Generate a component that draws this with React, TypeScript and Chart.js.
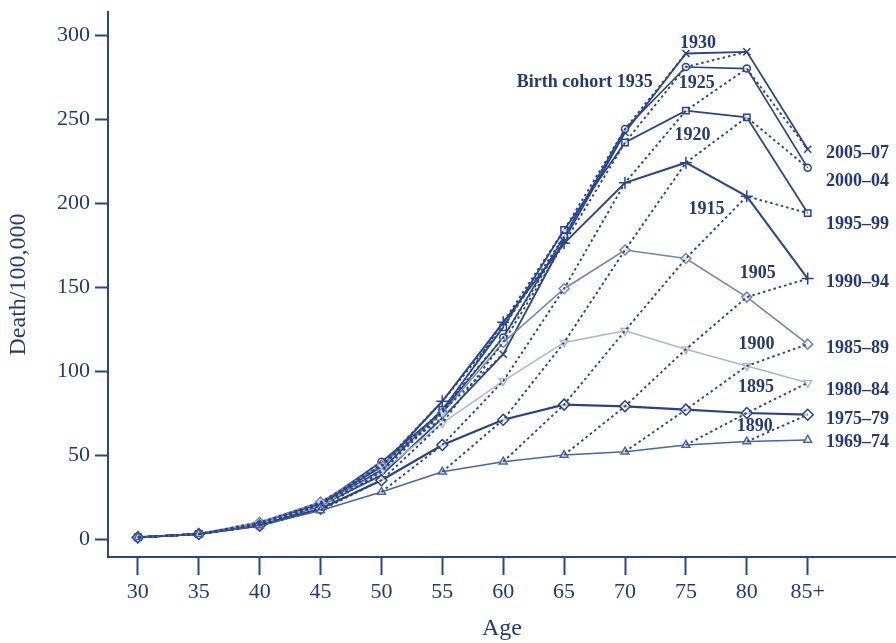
import React, { useEffect, useRef } from "react";
import { Chart, registerables } from "chart.js";

Chart.register(...registerables);

// ---- data ----
const AGES = ["30", "35", "40", "45", "50", "55", "60", "65", "70", "75", "80", "85+"];
const PERIODS = ["1969–74", "1975–79", "1980–84", "1985–89", "1990–94", "1995–99", "2000–04", "2005–07"];
const P1969_74 = [1, 3, 8, 17, 28, 40, 46, 50, 52, 56, 58, 59];
const P1975_79 = [1, 3, 8, 18, 35, 56, 71, 80, 79, 77, 75, 74];
const P1980_84 = [1, 3, 9, 20, 40, 69, 94, 117, 124, 113, 103, 93];
const P1985_89 = [1, 3, 10, 22, 44, 75, 117, 149, 172, 167, 144, 116];
const P1990_94 = [1, 3, 9, 21, 43, 82, 129, 176, 212, 224, 204, 155];
const P1995_99 = [1, 3, 9, 20, 41, 77, 126, 184, 236, 255, 251, 194];
const P2000_04 = [1, 3, 9, 21, 46, 76, 120, 180, 244, 281, 280, 221];
const P2005_07 = [1, 3, 8, 20, 38, 72, 110, 178, 242, 289, 290, 232];
const PERIOD_VALUES = [P1969_74, P1975_79, P1980_84, P1985_89, P1990_94, P1995_99, P2000_04, P2005_07];
const Y_TICKS = [0, 50, 100, 150, 200, 250, 300];

// cohort labels (text, x in age-index units, y in value units)
const COHORT_LABELS = [
  { text: "Birth cohort 1935", x: 7.34, y: 272 },
  { text: "1930", x: 9.2, y: 295 },
  { text: "1925", x: 9.18, y: 271 },
  { text: "1920", x: 9.11, y: 240 },
  { text: "1915", x: 9.34, y: 196 },
  { text: "1905", x: 10.18, y: 158 },
  { text: "1900", x: 10.16, y: 116 },
  { text: "1895", x: 10.15, y: 90 },
  { text: "1890", x: 10.13, y: 67 },
];
const PERIOD_LABEL_Y = [57.7, 71.4, 88.7, 113.7, 153, 187.5, 213, 229.8];

// ---- styles ----
const NAVY = "#2b4589";
const TEXT = "#25397a";
const PERIOD_STYLE = [
  { color: "#4a64a8", point: "triangle", rot: 0, width: 1.5, r: 4.5 },
  { color: "#2a4288", point: "rectRot", rot: 0, width: 2.2, r: 5.5 },
  { color: "#aeb6cf", point: "triangle", rot: 180, width: 1.5, r: 4.5 },
  { color: "#7884b0", point: "rectRot", rot: 0, width: 1.6, r: 5 },
  { color: NAVY, point: "cross", rot: 0, width: 2, r: 6 },
  { color: NAVY, point: "rect", rot: 0, width: 1.8, r: 4.5 },
  { color: NAVY, point: "circle", rot: 0, width: 1.6, r: 3.5 },
  { color: NAVY, point: "crossRot", rot: 0, width: 1.8, r: 5 },
];

const labelPlugin = {
  id: "labels",
  afterDatasetsDraw(chart: any) {
    const { ctx, scales } = chart;
    const xs = scales.x;
    const ys = scales.y;
    ctx.save();
    ctx.fillStyle = TEXT;
    ctx.font = "bold 18px 'Liberation Serif', serif";
    ctx.textBaseline = "middle";
    ctx.textAlign = "center";
    COHORT_LABELS.forEach((l) => {
      ctx.fillText(l.text, xs.getPixelForValue(l.x), ys.getPixelForValue(l.y));
    });
    ctx.textAlign = "left";
    PERIODS.forEach((p, i) => {
      ctx.fillText(p, xs.getPixelForValue(11.3), ys.getPixelForValue(PERIOD_LABEL_Y[i]));
    });
    ctx.restore();
  },
};

export default function App() {
  const ref = useRef<HTMLCanvasElement | null>(null);
  useEffect(() => {
    if (!ref.current) return;
    const datasets: any[] = [];
    // cohort (dotted) lines, built from period tables
    for (let k = -6; k <= 10; k++) {
      const pts: { x: number; y: number }[] = [];
      for (let i = 0; i < PERIOD_VALUES.length; i++) {
        const j = i + k;
        if (j >= 0 && j < AGES.length) pts.push({ x: j, y: PERIOD_VALUES[i][j] });
      }
      if (pts.length >= 2) {
        datasets.push({
          label: "cohort" + k,
          data: pts,
          borderColor: NAVY,
          borderWidth: 1.9,
          borderDash: [2.5, 3],
          pointRadius: 0,
          fill: false,
          tension: 0,
        });
      }
    }
    PERIOD_VALUES.forEach((vals, i) => {
      const s = PERIOD_STYLE[i];
      datasets.push({
        label: PERIODS[i],
        data: vals.map((v, j) => ({ x: j, y: v })),
        borderColor: s.color,
        borderWidth: s.width,
        pointStyle: s.point,
        pointRotation: s.rot,
        pointRadius: s.r,
        pointBorderColor: s.color,
        pointBorderWidth: 1.5,
        pointBackgroundColor: "rgba(255,255,255,0.7)",
        fill: false,
        tension: 0,
      });
    });

    const chart = new Chart(ref.current, {
      type: "line",
      data: { datasets },
      plugins: [labelPlugin],
      options: {
        animation: false,
        responsive: false,
        maintainAspectRatio: false,
        layout: { autoPadding: false, padding: { top: 12, right: 0, left: 0, bottom: 0 } },
        plugins: { legend: { display: false }, tooltip: { enabled: false } },
        scales: {
          x: {
            type: "linear",
            min: -0.49,
            max: 12.45,
            afterFit: (s: any) => {
              s.height = 86;
              s.paddingLeft = 0;
              s.paddingRight = 0;
            },
            afterBuildTicks: (s: any) => { s.ticks = AGES.map((_, i) => ({ value: i })); },
            ticks: {
              color: TEXT,
              font: { family: "'Liberation Serif', serif", size: 22 },
              padding: 4,
              autoSkip: false,
              maxRotation: 0,
              callback: (v: any) => AGES[v as number] ?? "",
            },
            grid: { drawOnChartArea: false, drawTicks: true, tickLength: 18, tickColor: NAVY, tickWidth: 2 },
            border: { display: true, color: NAVY, width: 2 },
            title: {
              display: true,
              text: "Age",
              color: TEXT,
              font: { family: "'Liberation Serif', serif", size: 24 },
              padding: { top: 0, bottom: 0 },
            },
          },
          y: {
            type: "linear",
            min: -10.7,
            max: 313.7,
            afterFit: (s: any) => {
              s.width = 108;
              s.paddingTop = 0;
              s.paddingBottom = 0;
            },
            afterBuildTicks: (s: any) => { s.ticks = Y_TICKS.map((v) => ({ value: v })); },
            ticks: {
              color: TEXT,
              font: { family: "'Liberation Serif', serif", size: 22 },
              padding: 5,
              callback: (v: any) => String(v),
            },
            grid: { drawOnChartArea: false, drawTicks: true, tickLength: 13, tickColor: NAVY, tickWidth: 2 },
            border: { display: true, color: NAVY, width: 2 },
            title: {
              display: true,
              text: "Death/100,000",
              color: TEXT,
              font: { family: "'Liberation Serif', serif", size: 24 },
              padding: { top: 4, bottom: 0 },
            },
          },
        },
      },
    });
    return () => chart.destroy();
  }, []);

  return (
    <div style={{ position: "fixed", left: 0, top: 0, width: 896, height: 643, background: "#fff" }}>
      <canvas ref={ref} width={896} height={643} style={{ width: 896, height: 643 }} />
    </div>
  );
}
